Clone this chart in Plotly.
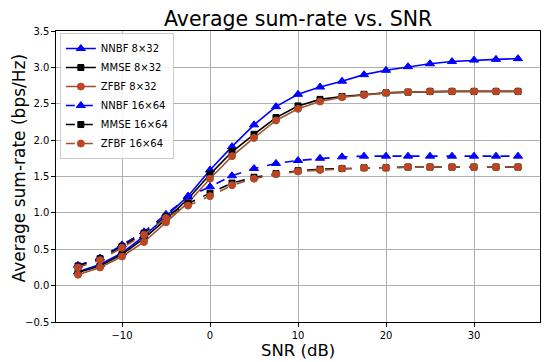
import plotly.graph_objects as go

snr = [-15, -12.5, -10, -7.5, -5, -2.5, 0, 2.5, 5, 7.5, 10, 12.5, 15, 17.5, 20, 22.5, 25, 27.5, 30, 32.5, 35]

nnbf_8x32 = [0.19, 0.29, 0.45, 0.68, 0.95, 1.23, 1.59, 1.91, 2.21, 2.46, 2.63, 2.73, 2.81, 2.90, 2.96, 3.01, 3.05, 3.08, 3.10, 3.11, 3.12]
mmse_8x32 = [0.18, 0.27, 0.43, 0.65, 0.91, 1.19, 1.53, 1.84, 2.08, 2.31, 2.47, 2.56, 2.60, 2.63, 2.65, 2.66, 2.67, 2.67, 2.67, 2.67, 2.67]
zfbf_8x32 = [0.15, 0.25, 0.40, 0.60, 0.87, 1.14, 1.47, 1.78, 2.03, 2.27, 2.43, 2.53, 2.59, 2.62, 2.65, 2.66, 2.67, 2.67, 2.67, 2.67, 2.67]
nnbf_16x64 = [0.28, 0.38, 0.56, 0.74, 0.98, 1.22, 1.36, 1.51, 1.61, 1.68, 1.72, 1.75, 1.77, 1.78, 1.78, 1.78, 1.78, 1.78, 1.78, 1.78, 1.78]
mmse_16x64 = [0.27, 0.37, 0.54, 0.72, 0.95, 1.13, 1.27, 1.41, 1.49, 1.54, 1.58, 1.60, 1.61, 1.62, 1.62, 1.63, 1.63, 1.63, 1.63, 1.63, 1.63]
zfbf_16x64 = [0.25, 0.35, 0.52, 0.70, 0.93, 1.10, 1.23, 1.38, 1.47, 1.53, 1.57, 1.59, 1.61, 1.62, 1.62, 1.63, 1.63, 1.63, 1.63, 1.63, 1.63]

x_ticks = [-10, 0, 10, 20, 30]
y_ticks = [-0.5, 0, 0.5, 1, 1.5, 2, 2.5, 3, 3.5]

series = [
    ("NNBF 8×32", nnbf_8x32, "#0000ff", "#0000ff", "triangle-up", "solid", 8),
    ("MMSE 8×32", mmse_8x32, "#000000", "#000000", "square", "solid", 6),
    ("ZFBF 8×32", zfbf_8x32, "#a0522d", "#c8401e", "circle", "solid", 7),
    ("NNBF 16×64", nnbf_16x64, "#0000ff", "#0000ff", "triangle-up", "dash", 8),
    ("MMSE 16×64", mmse_16x64, "#000000", "#000000", "square", "dash", 6),
    ("ZFBF 16×64", zfbf_16x64, "#a0522d", "#c8401e", "circle", "dash", 7),
]

fig = go.Figure()
for name, ys, lc, mc, sym, dash, ms in series:
    fig.add_trace(go.Scatter(
        x=snr, y=ys, name=name, mode="lines+markers",
        line=dict(color=lc, width=1.6, dash=dash),
        marker=dict(symbol=sym, size=ms, color=mc, line=dict(color=lc, width=1)),
    ))

font = "DejaVu Sans, sans-serif"
axis_common = dict(
    showgrid=True, gridcolor="#b0b0b0", gridwidth=1,
    showline=True, linecolor="black", linewidth=1.2, mirror=True,
    ticks="outside", ticklen=3.5, tickcolor="black",
    zeroline=False, automargin=False,
)
fig.update_layout(
    width=550, height=362,
    margin=dict(l=48, r=18, t=23, b=48, autoexpand=False),
    paper_bgcolor="white", plot_bgcolor="white",
    font=dict(family=font, size=10, color="black"),
    xaxis=dict(range=[-17.5, 37.5], tickvals=x_ticks, **axis_common),
    yaxis=dict(range=[-0.5, 3.5], tickvals=y_ticks, tickformat=".1f", **axis_common),
    legend=dict(x=0.008, y=0.993, xanchor="left", yanchor="top",
                bgcolor="rgba(255,255,255,0.85)", bordercolor="#cccccc", borderwidth=1,
                font=dict(size=10), tracegroupgap=0, itemwidth=30),
    showlegend=True,
    annotations=[
        dict(text="Average sum-rate vs. SNR", xref="paper", yref="paper",
             x=0.5, y=1, yshift=12, xanchor="center", yanchor="middle",
             showarrow=False, font=dict(size=20.5, color="black")),
        dict(text="SNR (dB)", xref="paper", yref="paper",
             x=0.5, y=0, yshift=-28.5, xanchor="center", yanchor="middle",
             showarrow=False, font=dict(size=16.5, color="black")),
        dict(text="Average sum-rate (bps/Hz)", xref="paper", yref="paper",
             x=0, y=0.5, xshift=-38, yshift=8, xanchor="center", yanchor="middle",
             textangle=-90, showarrow=False, font=dict(size=17, color="black")),
    ],
)

fig.write_html("out.html")
